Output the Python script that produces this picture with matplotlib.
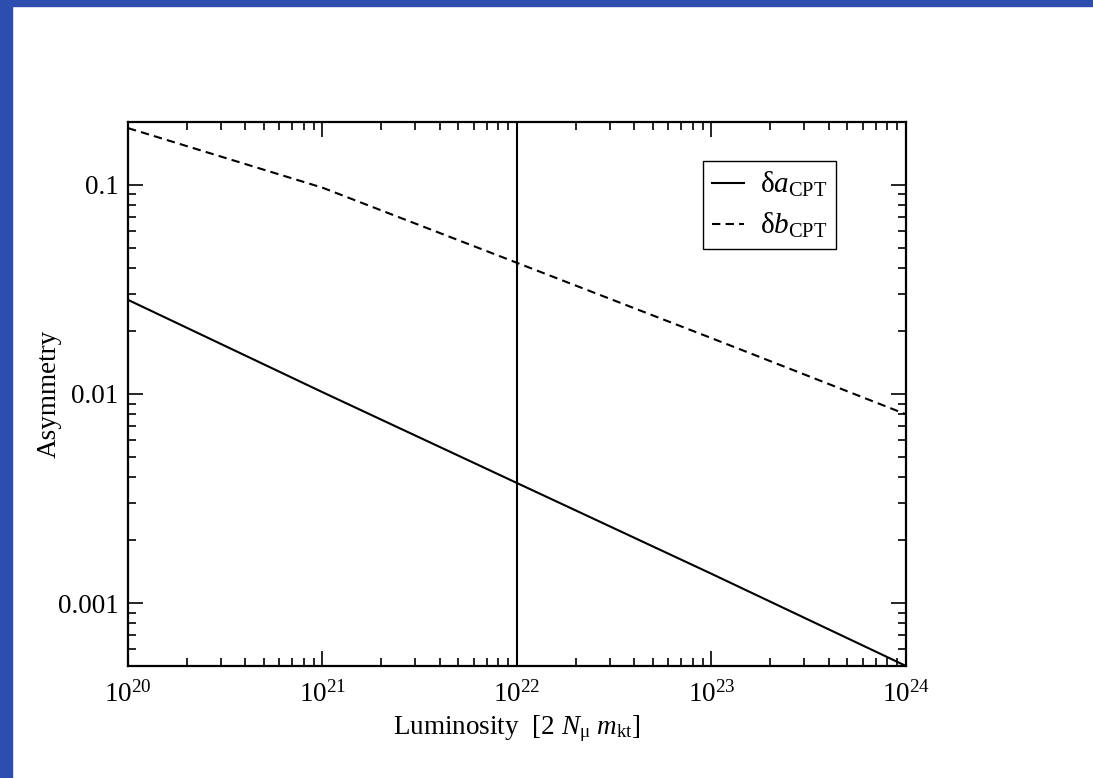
import numpy as np
import matplotlib
matplotlib.use('Agg')
import matplotlib.pyplot as plt
from matplotlib.patches import Rectangle
from matplotlib.ticker import LogLocator, NullFormatter

plt.rcParams['font.family'] = ['Liberation Serif', 'DejaVu Serif']
plt.rcParams['mathtext.fontset'] = 'custom'
plt.rcParams['mathtext.rm'] = 'Liberation Serif'
plt.rcParams['mathtext.it'] = 'Liberation Serif:italic'
plt.rcParams['mathtext.bf'] = 'Liberation Serif:bold'

# data
luminosity = [1e20, 1e21, 1e22, 1e23, 1e24]
delta_a = [0.0282, 0.0102, 0.00375, 0.00138, 0.0005]
delta_b = [0.187, 0.097, 0.0424, 0.0185, 0.0080]
marker_lum = 1e22

fig = plt.figure(figsize=(10.93, 7.78), dpi=100)
# blue slide frame on left and top
fig.patches.append(Rectangle((0, 0), 12 / 1093, 1, transform=fig.transFigure,
                             color='#2d4daf', zorder=0))
fig.patches.append(Rectangle((0, 1 - 6 / 778), 1, 6 / 778, transform=fig.transFigure,
                             color='#2d4daf', zorder=0))

ax = fig.add_axes([0.1171, 0.1440, 0.7118, 0.6992])
ax.plot(luminosity, delta_a, color='black', lw=1.5, label='δ$a_{\\mathrm{CPT}}$')
ax.plot(luminosity, delta_b, color='black', lw=1.5, ls=(0, (4, 2.5)),
        label='δ$b_{\\mathrm{CPT}}$')
ax.axvline(marker_lum, color='black', lw=1.5)

ax.set_xscale('log')
ax.set_yscale('log')
ax.set_xlim(1e20, 1e24)
ax.set_ylim(5e-4, 0.2)

ax.set_yticks([0.001, 0.01, 0.1])
ax.set_yticklabels(['0.001', '0.01', '0.1'])
ax.yaxis.set_minor_locator(LogLocator(base=10, subs=np.arange(2, 10), numticks=20))
ax.yaxis.set_minor_formatter(NullFormatter())
ax.xaxis.set_major_locator(LogLocator(base=10, numticks=10))
ax.xaxis.set_minor_locator(LogLocator(base=10, subs=np.arange(2, 10), numticks=20))
ax.xaxis.set_minor_formatter(NullFormatter())

ax.tick_params(which='both', direction='in', top=True, right=True, labelsize=19.5,
               width=1.2)
ax.tick_params(axis='x', which='both', pad=11)
ax.tick_params(axis='y', which='both', pad=7)
ax.tick_params(which='major', length=11)
ax.tick_params(which='minor', length=5.5)
for s in ax.spines.values():
    s.set_linewidth(1.6)

ax.set_xlabel('Luminosity  [2 $N_{\\mathrm{\\mu}}$ $m_{\\mathrm{kt}}$]', fontsize=19.5,
              labelpad=4)
ax.set_ylabel('Asymmetry', fontsize=19.5)
ax.yaxis.set_label_coords(-0.085, 0.5)

leg = ax.legend(loc='upper right', bbox_to_anchor=(0.910, 0.928), fontsize=21,
                fancybox=False, framealpha=1, edgecolor='black',
                handlelength=1.1, handletextpad=0.55, borderpad=0.3,
                labelspacing=0.4, borderaxespad=0)
leg.get_frame().set_linewidth(1.0)

fig.savefig('out.png', dpi=100)
